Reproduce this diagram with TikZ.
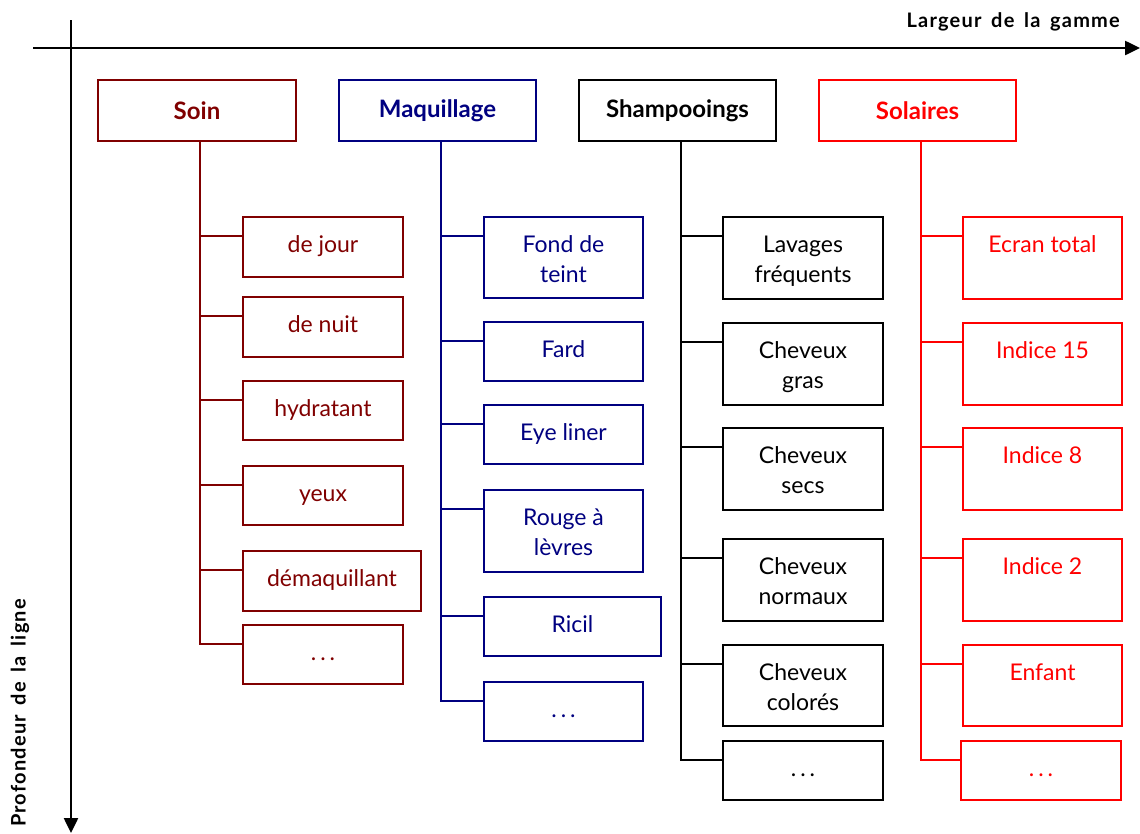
\documentclass[tikz,border=0pt]{standalone}
\usepackage{fontspec}
\setmainfont{Lato}
\newfontfamily\axfont{Lato}[LetterSpace=6,WordSpace=1.6]
\usetikzlibrary{arrows.meta,calc}
\definecolor{soinc}{RGB}{128,0,0}
\definecolor{maqc}{RGB}{0,0,128}
\definecolor{shac}{RGB}{0,0,0}
\definecolor{solc}{RGB}{255,0,0}
\tikzset{
  hbox/.style={draw, line width=2pt, inner sep=0pt, anchor=north west,
    font=\fontsize{24}{30}\selectfont\bfseries},
  cbox/.style={draw, line width=2pt, inner sep=0pt, anchor=north west},
  ctxt/.style={inner sep=0pt, anchor=base, font=\fontsize{23}{30}\selectfont},
  conn/.style={line width=2pt},
  axis/.style={line width=2.5pt, -{Triangle[length=15pt,width=14pt]}},
  axlab/.style={inner sep=0pt, font=\axfont\fontsize{20}{24}\selectfont\bfseries}
}
\newcommand\twoline[2]{\begin{tabular}[t]{@{}c@{}}#1\\#2\end{tabular}}
\newcommand\etc{.\hspace{4pt}.\hspace{4pt}.}
\newcommand\kid[8]{%
  \node[cbox, draw=#2, minimum width=#5pt, minimum height=#6pt] (#1) at (#3,#4) {};
  \node[ctxt, text=#2] (#1t) at ([yshift=-36pt]#1.north) {#7};
  \draw[conn, #2] ([xshift=3pt]#8.south) |- ([yshift=-20pt]#1.north west);
}
\begin{document}
\begin{tikzpicture}[x=1pt,y=-1pt]
\useasboundingbox (0,0) rectangle (1140,833);
% axes
\coordinate (hx0) at (33,48);
\coordinate (hx1) at (1140,48);
\coordinate (vy0) at (71,20);
\coordinate (vy1) at (71,833);
\draw[axis] (hx0) -- (hx1);
\draw[axis] (vy0) -- (vy1);
\node[axlab, anchor=east] (lx) at (1120,22) {Largeur de la gamme};
\node[axlab, rotate=90] (ly) at (20,713) {Profondeur de la ligne};
% headers
\node[hbox, draw=soinc, text=soinc, minimum width=198pt, minimum height=61pt] (soin) at (97,79) {Soin};
\node[hbox, draw=maqc, text=maqc, minimum width=197pt, minimum height=61pt] (maq) at (338,79) {Maquillage};
\node[hbox, draw=shac, text=shac, minimum width=197pt, minimum height=61pt] (sha) at (578,79) {Shampooings};
\node[hbox, draw=solc, text=solc, minimum width=197pt, minimum height=61pt] (sol) at (818,79) {Solaires};
% Soin
\kid{s1}{soinc}{242}{216}{160}{60}{de jour}{soin}
\kid{s2}{soinc}{242}{296}{160}{60}{de nuit}{soin}
\kid{s3}{soinc}{242}{380}{160}{59}{hydratant}{soin}
\kid{s4}{soinc}{242}{465}{160}{59}{yeux}{soin}
\kid{s5}{soinc}{242}{550}{178}{60}{démaquillant}{soin}
\kid{s6}{soinc}{242}{624}{160}{59}{\etc}{soin}
% Maquillage
\kid{m1}{maqc}{483}{216}{159}{81}{\twoline{Fond de}{teint}}{maq}
\kid{m2}{maqc}{483}{321}{159}{59}{Fard}{maq}
\kid{m3}{maqc}{483}{404}{159}{59}{Eye liner}{maq}
\kid{m4}{maqc}{483}{489}{159}{82}{\twoline{Rouge à}{lèvres}}{maq}
\kid{m5}{maqc}{483}{596}{177}{59}{Ricil}{maq}
\kid{m6}{maqc}{483}{681}{159}{59}{\etc}{maq}
% Shampooings
\kid{h1}{shac}{722}{216}{160}{82}{\twoline{Lavages}{fréquents}}{sha}
\kid{h2}{shac}{722}{322}{160}{82}{\twoline{Cheveux}{gras}}{sha}
\kid{h3}{shac}{722}{427}{160}{82}{\twoline{Cheveux}{secs}}{sha}
\kid{h4}{shac}{722}{538}{160}{82}{\twoline{Cheveux}{normaux}}{sha}
\kid{h5}{shac}{722}{644}{160}{81}{\twoline{Cheveux}{colorés}}{sha}
\kid{h6}{shac}{722}{740}{160}{59}{\etc}{sha}
% Solaires
\kid{o1}{solc}{962}{216}{159}{82}{Ecran total}{sol}
\kid{o2}{solc}{962}{322}{159}{82}{Indice 15}{sol}
\kid{o3}{solc}{962}{427}{159}{82}{Indice 8}{sol}
\kid{o4}{solc}{962}{538}{159}{82}{Indice 2}{sol}
\kid{o5}{solc}{962}{644}{159}{81}{Enfant}{sol}
\kid{o6}{solc}{960}{740}{160}{59}{\etc}{sol}
\end{tikzpicture}
\end{document}
